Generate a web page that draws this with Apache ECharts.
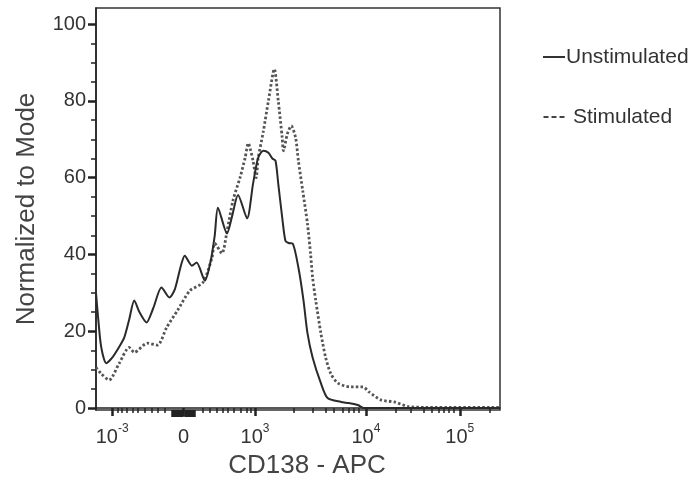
<!DOCTYPE html>
<html>
<head>
<meta charset="utf-8">
<script src="https://cdn.jsdelivr.net/npm/echarts@6/dist/echarts.min.js"></script>
<style>
  html, body { margin: 0; padding: 0; background: #fff; }
  #main { width: 699px; height: 481px; }
</style>
</head>
<body>
<div id="main"></div>
<script>
// histogram channels (biexponential display scale, 0..1024)
const unstimulated = [
  [0, 30], [5, 24], [13, 16], [26, 11.7], [40, 13], [59, 16], [72, 18.5], [84, 23],
  [97, 28], [110, 25], [128, 22.3], [145, 26], [166, 31.4], [186, 28.8], [200, 31],
  [215, 37], [225, 39.7], [243, 37.1], [255, 37.9], [276, 33.2], [290, 38], [301, 45],
  [309, 52.2], [332, 45.5], [345, 50], [360, 55.5], [383, 49.4], [398, 58.4], [411, 65.2],
  [424, 67], [437, 66.5], [447, 65], [455, 64.4], [462, 58.4], [472, 49.6], [480, 43.6],
  [488, 43], [498, 42.9], [513, 36.6], [526, 28], [536, 19.5], [549, 13.2], [570, 6.5],
  [587, 2.6], [621, 1.6], [641, 1.3], [664, 0.8], [679, 0], [720, 0], [1024, 0]
];
const stimulated = [
  [0, 10.6], [13, 9], [33, 7.3], [59, 11.7], [84, 15.8], [97, 14.5], [130, 16.9],
  [156, 16.4], [179, 21], [207, 25.5], [238, 30.6], [271, 32.7], [294, 39.2], [301, 42.9],
  [319, 40.3], [332, 46], [347, 54], [365, 60], [378, 65.2], [386, 69], [391, 67.5],
  [398, 64.4], [406, 60], [411, 65], [424, 72], [437, 80], [452, 88.3], [462, 80],
  [472, 70.4], [475, 67], [485, 71.4], [495, 73.5], [506, 70.4], [513, 64.4], [524, 56.6],
  [536, 48], [544, 40], [549, 34], [557, 28], [570, 19.5], [582, 13.2], [595, 9],
  [613, 6.5], [646, 5.5], [677, 5.5], [692, 4.2], [723, 2.1], [756, 1.6], [792, 0.4],
  [833, 0.2], [1024, 0.2]
];

// x axis ticks (channel positions of -10^3, 0, 10^3, 10^4, 10^5)
const xMajorTicks = [41, 222, 403, 684, 922];
const xTickBase = ['10', '0', '10', '10', '10'];
const xTickExp = ['-3', '', '3', '4', '5'];
const xMinorTicks = [
  54, 66, 79, 92, 107, 123, 141, 156, 174,
  271, 289, 305, 320, 335, 350, 368, 381, 393,
  501, 549, 582, 603, 626, 641, 654, 667,
  761, 799, 830, 850, 868, 881, 894, 907,
  998
];
// the crowded linear ticks around zero
const xZeroTicks = [194, 198, 202, 206, 210, 214, 218, 226, 230, 234, 238, 242, 246, 250];
const yMajorTicks = [0, 20, 40, 60, 80, 100];
const yMinorTicks = [5, 10, 15, 25, 30, 35, 45, 50, 55, 65, 70, 75, 85, 90, 95];

const seriesNames = ['Unstimulated', 'Stimulated'];

const myChart = echarts.init(document.getElementById('main'));
const font = 'Liberation Sans, Arial, sans-serif';
const xRange = { min: 0, max: 1024 };
const yRange = { min: -0.5, max: 104.2 };

// extra x axis that only draws ticks
function tickAxis(values, length, width) {
  return {
    type: 'value', ...xRange, position: 'bottom',
    axisLine: { show: false },
    axisTick: { show: true, length: length, lineStyle: { color: '#222', width: width }, customValues: values },
    axisLabel: { show: false },
    splitLine: { show: false }
  };
}

let option = {
  backgroundColor: '#fff',
  animation: false,
  grid: {
    left: 96, right: 199, top: 8, bottom: 71,
    outerBoundsMode: 'none',
    show: true, borderColor: '#333', borderWidth: 1.5, backgroundColor: 'transparent'
  },
  legend: {
    orient: 'vertical',
    left: 538,
    top: 40,
    itemGap: 36,
    itemWidth: 22,
    itemHeight: 2,
    textStyle: { fontFamily: font, fontSize: 21, color: '#333', lineHeight: 24, padding: [0, 0, 0, -4] },
    data: [
      { name: seriesNames[0], icon: 'path://M0,0H22V2H0Z', itemStyle: { color: '#333' } },
      {
        name: seriesNames[1], icon: 'path://M0,0H5V2H0Z M8,0H13V2H8Z M16,0H21V2H16Z', itemStyle: { color: '#444' },
        textStyle: { padding: [0, 0, 0, 3] }
      }
    ]
  },
  xAxis: [
    {
      type: 'value', ...xRange,
      name: 'CD138 - APC', nameLocation: 'middle', nameGap: 43,
      nameTextStyle: { fontFamily: font, fontSize: 26, color: '#444', padding: [0, 0, 0, 18] },
      axisLine: { show: true, lineStyle: { color: '#222', width: 1.5 } },
      axisTick: { show: true, length: 8, lineStyle: { color: '#222', width: 2.5 }, customValues: xMajorTicks },
      axisLabel: {
        customValues: xMajorTicks, margin: 13, color: '#333',
        formatter: function (v) {
          const i = xMajorTicks.indexOf(v);
          if (i < 0) return '';
          return xTickExp[i] ? `{b|${xTickBase[i]}}{s|${xTickExp[i]}}` : `{b|${xTickBase[i]}}`;
        },
        rich: {
          b: { fontFamily: font, fontSize: 20, color: '#333', lineHeight: 24, verticalAlign: 'bottom' },
          s: { fontFamily: font, fontSize: 12, color: '#333', lineHeight: 24, verticalAlign: 'top' }
        }
      },
      splitLine: { show: false }
    },
    tickAxis(xMinorTicks, 5, 1.5),
    tickAxis(xZeroTicks, 7, 2.5)
  ],
  yAxis: [
    {
      type: 'value', ...yRange,
      name: 'Normalized to Mode', nameLocation: 'middle', nameGap: 56,
      nameTextStyle: { fontFamily: font, fontSize: 26, color: '#444' },
      axisLine: { show: true, lineStyle: { color: '#222', width: 1.5 } },
      axisTick: { show: true, length: 8, lineStyle: { color: '#222', width: 2.5 }, customValues: yMajorTicks },
      axisLabel: { customValues: yMajorTicks, margin: 10, fontFamily: font, fontSize: 20, color: '#333' },
      splitLine: { show: false }
    },
    {
      type: 'value', ...yRange, position: 'left',
      axisLine: { show: false },
      axisTick: { show: true, length: 5, lineStyle: { color: '#222', width: 1.5 }, customValues: yMinorTicks },
      axisLabel: { show: false },
      splitLine: { show: false }
    }
  ],
  series: [
    {
      name: seriesNames[0], type: 'line', data: unstimulated,
      xAxisIndex: 0, yAxisIndex: 0,
      symbol: 'none', smooth: 0.25,
      lineStyle: { color: '#2a2a2a', width: 2 },
      itemStyle: { color: '#2a2a2a' },
      z: 3
    },
    {
      name: seriesNames[1], type: 'line', data: stimulated,
      xAxisIndex: 0, yAxisIndex: 0,
      symbol: 'none', smooth: 0.25,
      lineStyle: { color: '#555', width: 2.8, type: [2.5, 2.2] },
      itemStyle: { color: '#555' },
      z: 2
    }
  ]
};
myChart.setOption(option);
</script>
</body>
</html>
